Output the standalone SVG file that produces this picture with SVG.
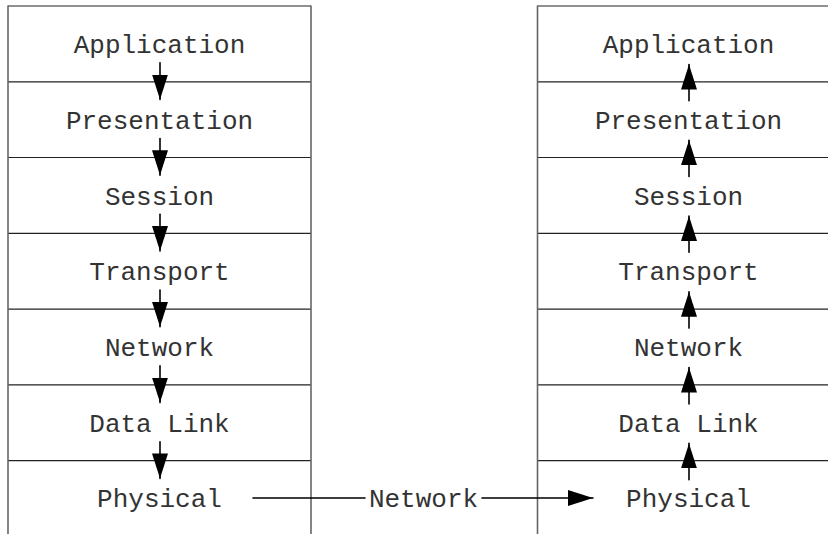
<svg xmlns="http://www.w3.org/2000/svg" width="828" height="534" viewBox="0 0 828 534">
<style>
.layer rect { fill: #fff; stroke: none; }
.hline { stroke: #222; stroke-width: 1.2; }
.vline { stroke: #666; stroke-width: 1.6; }
.lbl { font-family: "Liberation Mono", "Courier New", monospace; font-size: 26px; fill: #333; text-anchor: middle; }
.arr { stroke: #000; stroke-width: 1.6; stroke-linecap: round; fill: none; }
</style>
<defs>
<marker id="head" viewBox="0 0 25 16" refX="25" refY="8" markerWidth="25" markerHeight="16" markerUnits="userSpaceOnUse" orient="auto">
<path d="M0,0 L25,8 L0,16 Z" fill="#000"/>
</marker>
</defs>
<rect width="828" height="534" fill="#fff"/>

<g id="left-stack">
<g id="l-application" class="layer"><line class="hline" x1="8" y1="6" x2="311" y2="6"/><text class="lbl" x="159.5" y="53">Application</text></g>
<g id="l-presentation" class="layer"><line class="hline" x1="8" y1="81.8" x2="311" y2="81.8"/><text class="lbl" x="159.5" y="129">Presentation</text></g>
<g id="l-session" class="layer"><line class="hline" x1="8" y1="157.5" x2="311" y2="157.5"/><text class="lbl" x="159.5" y="204.5">Session</text></g>
<g id="l-transport" class="layer"><line class="hline" x1="8" y1="233.3" x2="311" y2="233.3"/><text class="lbl" x="159.5" y="280.3">Transport</text></g>
<g id="l-network" class="layer"><line class="hline" x1="8" y1="309.1" x2="311" y2="309.1"/><text class="lbl" x="159.5" y="356.1">Network</text></g>
<g id="l-datalink" class="layer"><line class="hline" x1="8" y1="384.9" x2="311" y2="384.9"/><text class="lbl" x="159.5" y="431.9">Data Link</text></g>
<g id="l-physical" class="layer"><line class="hline" x1="8" y1="460.7" x2="311" y2="460.7"/><text class="lbl" x="159.5" y="506.5">Physical</text></g>
<line class="vline" x1="8" y1="5.4" x2="8" y2="534"/>
<line class="vline" x1="311" y1="5.4" x2="311" y2="534"/>
</g>

<g id="right-stack">
<g id="r-application" class="layer"><line class="hline" x1="537.5" y1="6" x2="828" y2="6"/><text class="lbl" x="688.5" y="53">Application</text></g>
<g id="r-presentation" class="layer"><line class="hline" x1="537.5" y1="81.8" x2="828" y2="81.8"/><text class="lbl" x="688.5" y="129">Presentation</text></g>
<g id="r-session" class="layer"><line class="hline" x1="537.5" y1="157.5" x2="828" y2="157.5"/><text class="lbl" x="688.5" y="204.5">Session</text></g>
<g id="r-transport" class="layer"><line class="hline" x1="537.5" y1="233.3" x2="828" y2="233.3"/><text class="lbl" x="688.5" y="280.3">Transport</text></g>
<g id="r-network" class="layer"><line class="hline" x1="537.5" y1="309.1" x2="828" y2="309.1"/><text class="lbl" x="688.5" y="356.1">Network</text></g>
<g id="r-datalink" class="layer"><line class="hline" x1="537.5" y1="384.9" x2="828" y2="384.9"/><text class="lbl" x="688.5" y="431.9">Data Link</text></g>
<g id="r-physical" class="layer"><line class="hline" x1="537.5" y1="460.7" x2="828" y2="460.7"/><text class="lbl" x="688.5" y="506.5">Physical</text></g>
<line class="vline" x1="537.5" y1="5.4" x2="537.5" y2="534"/>
</g>

<g id="connectors">
<line class="arr" x1="160" y1="62.8" x2="160" y2="99.5" marker-end="url(#head)"/>
<line class="arr" x1="160" y1="138.5" x2="160" y2="175.2" marker-end="url(#head)"/>
<line class="arr" x1="160" y1="214.3" x2="160" y2="251" marker-end="url(#head)"/>
<line class="arr" x1="160" y1="290.1" x2="160" y2="326.8" marker-end="url(#head)"/>
<line class="arr" x1="160" y1="365.9" x2="160" y2="402.6" marker-end="url(#head)"/>
<line class="arr" x1="160" y1="441.7" x2="160" y2="478.4" marker-end="url(#head)"/>

<line class="arr" x1="689" y1="100.8" x2="689" y2="64.5" marker-end="url(#head)"/>
<line class="arr" x1="689" y1="176.5" x2="689" y2="140.2" marker-end="url(#head)"/>
<line class="arr" x1="689" y1="252.3" x2="689" y2="216" marker-end="url(#head)"/>
<line class="arr" x1="689" y1="328.1" x2="689" y2="291.8" marker-end="url(#head)"/>
<line class="arr" x1="689" y1="403.9" x2="689" y2="367.6" marker-end="url(#head)"/>
<line class="arr" x1="689" y1="479.7" x2="689" y2="443.4" marker-end="url(#head)"/>

<g id="phys-link">
<line class="arr" x1="253" y1="498" x2="365" y2="498"/>
<line class="arr" x1="482" y1="498" x2="593" y2="498" marker-end="url(#head)"/>
<text class="lbl" x="423.5" y="506.5">Network</text>
</g>
</g>
</svg>
